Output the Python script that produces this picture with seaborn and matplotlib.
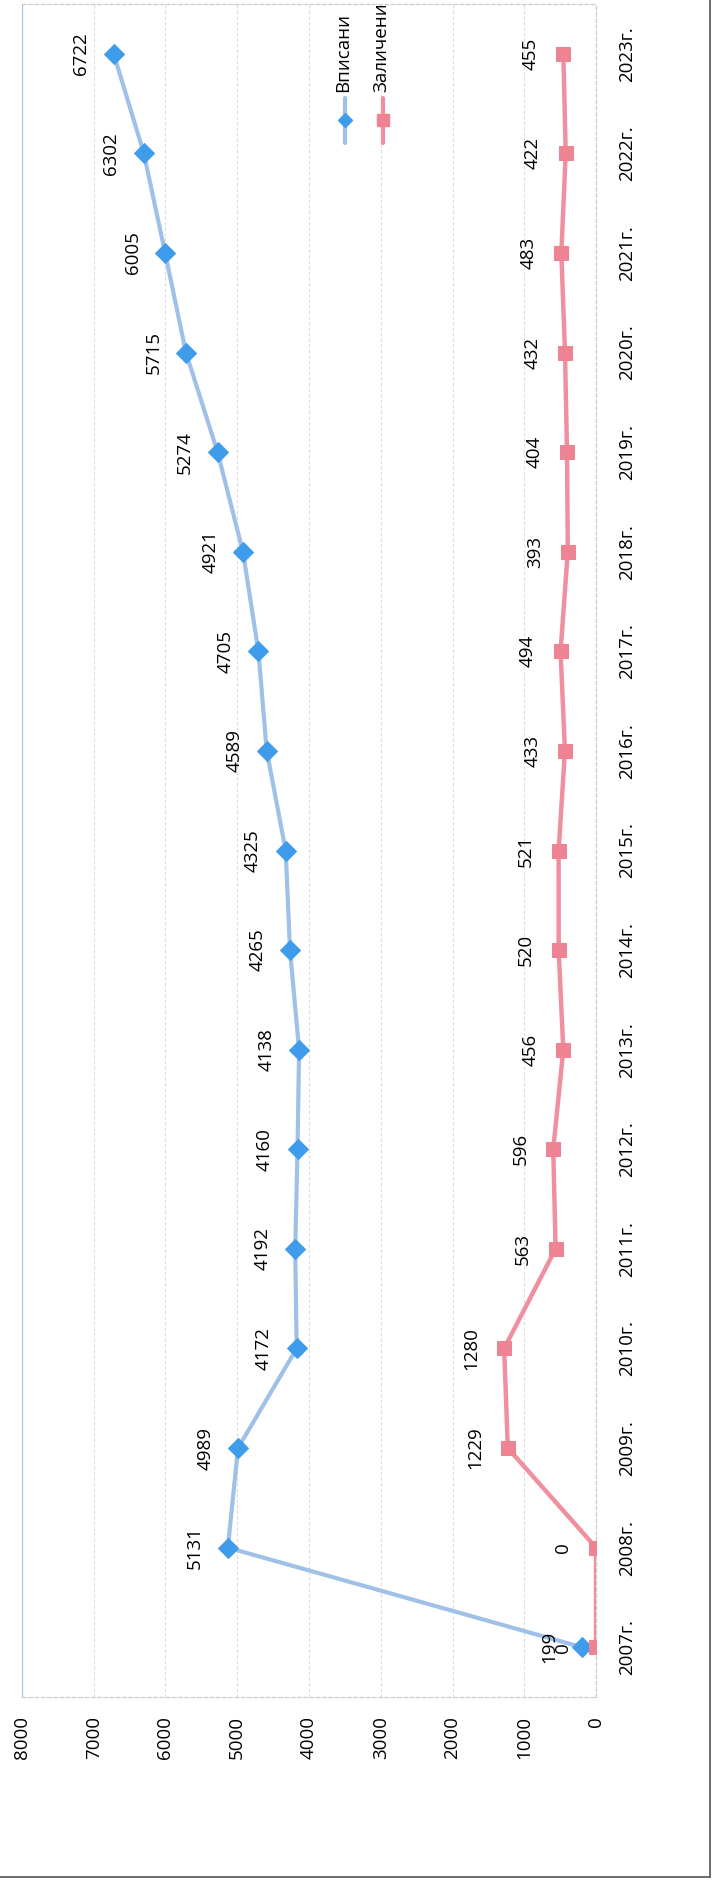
import numpy as np
import pandas as pd
import seaborn as sns
import matplotlib
matplotlib.use("Agg")
from matplotlib import pyplot as plt
from matplotlib.lines import Line2D

years = ["2007г.", "2008г.", "2009г.", "2010г.", "2011г.", "2012г.", "2013г.", "2014г.",
         "2015г.", "2016г.", "2017г.", "2018г.", "2019г.", "2020г.", "2021г.", "2022г.", "2023г."]
vpisani = [199, 5131, 4989, 4172, 4192, 4160, 4138, 4265, 4325, 4589, 4705, 4921, 5274, 5715, 6005, 6302, 6722]
zalicheni = [0, 0, 1229, 1280, 563, 596, 456, 520, 521, 433, 494, 393, 404, 432, 483, 422, 455]
value_ticks = list(range(0, 8001, 1000))

sns.set_style("white")
plt.rcParams["font.family"] = ["Open Sans", "DejaVu Sans"]

W, H = 717, 1887
fig = plt.figure(figsize=(W / 100, H / 100), dpi=100)
ax = fig.add_axes([22 / W, 1 - 1697 / H, (596 - 22) / W, (1697 - 4) / H])

pos = np.arange(len(years))
df = pd.DataFrame({"pos": pos, "Вписани": vpisani, "Заличени": zalicheni})

blue_line, blue_mark = "#9fc1e7", "#3f9ceb"
pink_line, pink_mark = "#f0909f", "#ee8394"

sns.lineplot(data=df, x="Вписани", y="pos", sort=False, estimator=None, ax=ax,
             color=blue_line, lw=3, marker="D", ms=10, mfc=blue_mark, mec=blue_mark, zorder=3)
sns.lineplot(data=df, x="Заличени", y="pos", sort=False, estimator=None, ax=ax,
             color=pink_line, lw=3.2, marker="s", ms=10, mfc=pink_mark, mec=pink_mark, zorder=3)

# data labels, rotated like the rest of the page
for series in (vpisani, zalicheni):
    for i, v in enumerate(series):
        ax.annotate(str(v), (v, i), xytext=(-17, 0), textcoords="offset points",
                    rotation=90, ha="right", va="center", fontsize=13.5, color="#000000")

ax.set_xlim(8000, 0)
ax.set_xticks(value_ticks)
ax.tick_params(axis="x", labelrotation=90, pad=14, length=0, labelsize=13.5, colors="#000000")
ax.set_ylim(-0.5, len(years) - 0.5)
ax.set_yticks(pos, years)
ax.yaxis.tick_right()
ax.tick_params(axis="y", labelrotation=90, pad=16, length=0, labelsize=13.5, colors="#000000")
for lbl in ax.get_yticklabels():
    lbl.set_va("center")
ax.set_xlabel("")
ax.set_ylabel("")

ax.grid(axis="x", color="#dddddd", lw=0.8, ls=(0, (3, 2)))
ax.grid(axis="y", visible=False)
for s in ax.spines.values():
    s.set_color("#cccccc")
    s.set_linewidth(0.9)
    s.set_linestyle((0, (3, 2)))
ax.spines["left"].set_color("#a8c6e6")
ax.spines["left"].set_linestyle("-")

# legend, drawn by hand because it is rotated too
legend = [("Вписани", blue_line, blue_mark, "D", 7, 345), ("Заличени", pink_line, pink_mark, "s", 9, 383)]
for name, lc, mc, mk, ms, px in legend:
    fig.add_artist(Line2D([px / W, px / W], [1 - 98 / H, 1 - 143 / H], transform=fig.transFigure,
                          color=lc, lw=3))
    fig.add_artist(Line2D([px / W], [1 - 120 / H], transform=fig.transFigure, marker=mk, ms=ms,
                          mfc=mc, mec=mc, lw=0))
    fig.text((px - 2) / W, 1 - 92 / H, name, rotation=90, ha="center", va="bottom",
             fontsize=13.5, color="#000000")

# outer frame of the scanned page
fig.add_artist(Line2D([710 / W, 710 / W], [1 - 1877 / H, 1], transform=fig.transFigure, color="#555555", lw=1.2))
fig.add_artist(Line2D([0, 710 / W], [1 - 1877 / H, 1 - 1877 / H], transform=fig.transFigure, color="#555555", lw=1.2))

fig.savefig("out.png", dpi=100)
